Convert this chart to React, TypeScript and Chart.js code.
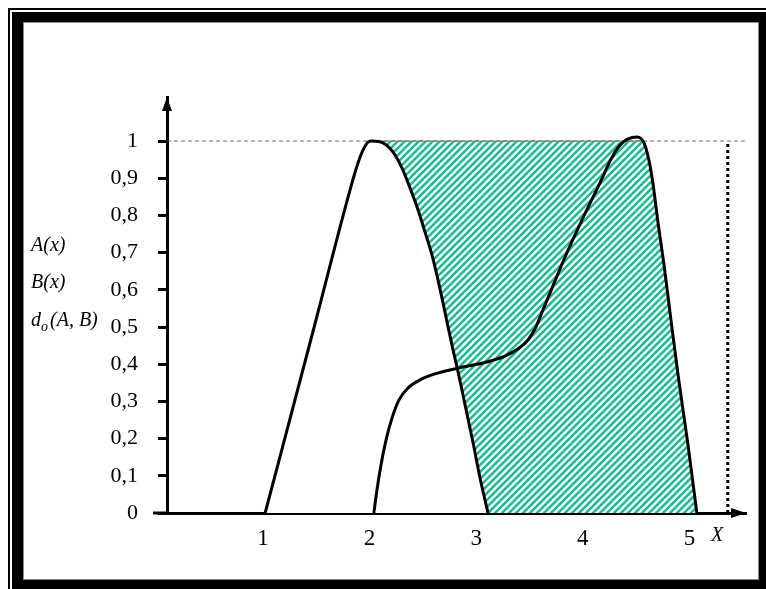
import React, { useEffect, useRef } from 'react';
import { Chart, registerables } from 'chart.js';

Chart.register(...registerables);

// Axis ticks
const xTickValues = [1, 2, 3, 4, 5];
const yTickValues = [0, 0.1, 0.2, 0.3, 0.4, 0.5, 0.6, 0.7, 0.8, 0.9, 1];

// Membership function A(x)
const aX = [1.02, 1.48, 1.816, 1.891, 1.947, 1.985, 2.023, 2.126, 2.22, 2.304, 2.379, 2.454, 2.52, 2.585, 2.642, 2.689, 2.736, 2.783, 2.83, 2.896, 2.971, 3.036, 3.111];
const aY = [0, 0.5, 0.868, 0.941, 0.981, 0.997, 1.0, 0.995, 0.97, 0.927, 0.874, 0.815, 0.755, 0.694, 0.626, 0.565, 0.5, 0.438, 0.379, 0.29, 0.188, 0.094, 0];

// Membership function B(x)
const bX = [2.04, 2.069, 2.107, 2.154, 2.21, 2.276, 2.36, 2.473, 2.614, 2.84, 3.1, 3.27, 3.39, 3.486, 3.56, 3.626, 3.692, 3.833, 3.993, 4.16, 4.27, 4.35, 4.42, 4.51, 4.574, 4.62, 4.66, 4.705, 4.762, 4.827, 4.9, 4.987, 5.07];
const bY = [0, 0.062, 0.129, 0.196, 0.255, 0.304, 0.336, 0.358, 0.374, 0.39, 0.406, 0.422, 0.441, 0.465, 0.5, 0.546, 0.591, 0.688, 0.788, 0.887, 0.954, 0.989, 1.005, 1.011, 0.995, 0.949, 0.882, 0.782, 0.667, 0.519, 0.358, 0.183, 0];

// Upper edge of the d_o(A,B) area: level 1, then the falling side of B
const areaX = [2.1, 4.56, 4.574, 4.62, 4.66, 4.705, 4.762, 4.827, 4.9, 4.987, 5.07];
const areaY = [1, 1, 0.995, 0.949, 0.882, 0.782, 0.667, 0.519, 0.358, 0.183, 0];

// Level y = 1 and the vertical marker
const levelX = [0.1, 5.52];
const levelY = [1, 1];
const markX = [5.36, 5.36];
const markY = [0, 1];

const SERIF = "'Liberation Serif', 'Times New Roman', serif";

const pts = (xs: number[], ys: number[]) => xs.map((x, i) => ({ x, y: ys[i] }));

function makeHatch(): CanvasPattern | string {
  const p = 7;
  const c = document.createElement('canvas');
  c.width = p;
  c.height = p;
  const g = c.getContext('2d');
  if (!g) return '#14be92';
  g.fillStyle = '#ffffff';
  g.fillRect(0, 0, p, p);
  g.strokeStyle = 'rgb(18,190,146)';
  g.lineWidth = 2.5;
  g.beginPath();
  g.moveTo(0, p);
  g.lineTo(p, 0);
  g.moveTo(-1, 1);
  g.lineTo(1, -1);
  g.moveTo(p - 1, p + 1);
  g.lineTo(p + 1, p - 1);
  g.stroke();
  return g.createPattern(c, 'repeat') || '#14be92';
}

const framePlugin = {
  id: 'frame',
  beforeDraw(chart: any) {
    const { ctx, width, height } = chart;
    ctx.save();
    ctx.fillStyle = '#fff';
    ctx.fillRect(0, 0, width, height);
    ctx.strokeStyle = '#000';
    ctx.lineWidth = 2;
    ctx.strokeRect(9, 9, width + 20, height + 20);
    ctx.fillStyle = '#000';
    ctx.fillRect(12, 12, width, height);
    ctx.fillStyle = '#fff';
    ctx.fillRect(24, 23, 734, 556);
    ctx.strokeStyle = '#888';
    ctx.lineWidth = 1;
    ctx.strokeRect(23.5, 22.5, 735, 557);
    ctx.restore();
  },
  afterDraw(chart: any) {
    const { ctx } = chart;
    const xs = chart.scales.x;
    const ys = chart.scales.y;
    const ax = ys.right;
    const ay = xs.top;
    ctx.save();
    ctx.fillStyle = '#000';
    // arrow on the vertical axis
    ctx.beginPath();
    ctx.moveTo(ax, ys.top);
    ctx.lineTo(ax - 5, ys.top + 14);
    ctx.lineTo(ax + 5, ys.top + 14);
    ctx.closePath();
    ctx.fill();
    // arrow on the horizontal axis
    ctx.beginPath();
    ctx.moveTo(xs.right, ay);
    ctx.lineTo(xs.right - 15, ay - 5);
    ctx.lineTo(xs.right - 15, ay + 5);
    ctx.closePath();
    ctx.fill();
    // short stub of the horizontal axis left of the origin
    ctx.fillRect(153, ay - 1.5, 14, 3);

    // axis names
    ctx.textBaseline = 'middle';
    ctx.textAlign = 'left';
    ctx.font = `italic 20px ${SERIF}`;
    ctx.fillText('A(x)', 31, 246);
    ctx.fillText('B(x)', 31, 283);
    ctx.fillText('d', 31, 321);
    const dw = ctx.measureText('d').width;
    ctx.font = `italic 14px ${SERIF}`;
    ctx.fillText('o', 31 + dw, 327);
    const ow = ctx.measureText('o').width;
    ctx.font = `italic 20px ${SERIF}`;
    ctx.fillText('(A, B)', 31 + dw + ow + 2, 321);
    ctx.textAlign = 'center';
    ctx.fillText('X', 717, 536);
    ctx.restore();
  },
};

export default function App() {
  const ref = useRef<HTMLCanvasElement>(null);

  useEffect(() => {
    document.body.style.margin = '0';
    const canvas = ref.current;
    if (!canvas) return;
    const hatch = makeHatch();

    const chart = new Chart(canvas, {
      type: 'line',
      data: {
        datasets: [
          {
            label: 'B(x)',
            data: pts(bX, bY),
            borderColor: '#000',
            borderWidth: 3,
            pointRadius: 0,
            fill: false,
            cubicInterpolationMode: 'monotone',
            order: 1,
          },
          {
            label: 'A(x)',
            data: pts(aX, aY),
            borderColor: '#000',
            borderWidth: 3,
            pointRadius: 0,
            fill: 'origin',
            backgroundColor: '#fff',
            cubicInterpolationMode: 'monotone',
            order: 2,
          },
          {
            label: 'level',
            data: pts(levelX, levelY),
            borderColor: '#666',
            borderWidth: 1,
            borderDash: [4, 3],
            pointRadius: 0,
            fill: false,
            order: 3,
          },
          {
            label: 'mark',
            data: pts(markX, markY),
            borderColor: '#000',
            borderWidth: 3,
            borderDash: [3, 3],
            pointRadius: 0,
            fill: false,
            order: 3,
          },
          {
            label: 'd_o(A,B)',
            data: pts(areaX, areaY),
            borderColor: '#777',
            borderWidth: 1,
            backgroundColor: hatch as any,
            fill: 'origin',
            pointRadius: 0,
            cubicInterpolationMode: 'monotone',
            order: 5,
          },
        ],
      },
      options: {
        animation: false,
        responsive: false,
        devicePixelRatio: 1,
        layout: { padding: { left: 0, right: 20, top: 97, bottom: 0 } },
        plugins: {
          legend: { display: false },
          tooltip: { enabled: false },
        },
        scales: {
          x: {
            type: 'linear',
            min: 0.0994,
            max: 5.531,
            afterFit: (s: any) => {
              s.height = 76;
            },
            afterBuildTicks: (s: any) => {
              s.ticks = xTickValues.map((v) => ({ value: v }));
            },
            grid: { display: false, drawTicks: false },
            border: { display: true, color: '#000', width: 3 },
            ticks: {
              color: '#000',
              padding: 12,
              maxRotation: 0,
              font: { family: SERIF, size: 23 },
              callback: (v: any) => String(v),
            },
          },
          y: {
            type: 'linear',
            min: 0,
            max: 1.1183,
            afterFit: (s: any) => {
              s.width = 167;
            },
            afterBuildTicks: (s: any) => {
              s.ticks = yTickValues.map((v) => ({ value: v }));
            },
            grid: {
              display: true,
              drawOnChartArea: false,
              drawTicks: true,
              tickLength: 9,
              tickWidth: 3,
              tickColor: '#000',
              color: '#000',
              lineWidth: 3,
            },
            border: { display: true, color: '#000', width: 3 },
            ticks: {
              color: '#000',
              padding: 20,
              font: { family: SERIF, size: 22 },
              callback: (v: any) => {
                const n = Number(v);
                if (n === 0) return '0';
                if (n === 1) return '1';
                return n.toFixed(1).replace('.', ',');
              },
            },
          },
        },
      },
      plugins: [framePlugin],
    } as any);

    return () => chart.destroy();
  }, []);

  return (
    <canvas
      ref={ref}
      width={766}
      height={589}
      style={{ display: 'block', width: 766, height: 589 }}
    />
  );
}
